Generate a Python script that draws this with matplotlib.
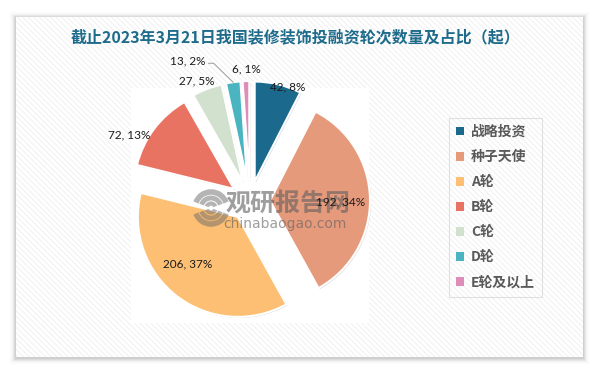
import math
import matplotlib.pyplot as plt
from matplotlib.patches import Rectangle, Patch, Arc
import matplotlib.patheffects as pe

# data
categories = ['战略投资', '种子天使', 'A轮', 'B轮', 'C轮', 'D轮', 'E轮及以上']
counts = [42, 192, 206, 72, 27, 13, 6]
shares = ['8%', '34%', '37%', '13%', '5%', '2%', '1%']
colors = ['#1B6A8D', '#E69A7C', '#FDBF73', '#E97362', '#D2E0CE', '#4AB4C0', '#DE8DB8']
title = '截止2023年3月21日我国装修装饰投融资轮次数量及占比（起）'

# label placement: distance (in radii) and angle nudge from slice middle
label_dist = [1.20, 0.91, 0.89, 1.38, 1.31, 1.53, 1.32]
label_shift = [-5, -1.6, -7.5, 8.6, 2.8, 16, -0.3]

plt.rcParams['font.family'] = ['Noto Sans CJK SC', 'DejaVu Sans']
plt.rcParams['hatch.color'] = '#EEEEEE'
plt.rcParams['hatch.linewidth'] = 0.6

W, H = 595, 373
fig = plt.figure(figsize=(W / 100, H / 100), dpi=100)
ax = fig.add_axes([0, 0, 1, 1])

# card shadow + hatched card
for g, a in zip([6, 4, 3, 2, 1], [0.02, 0.03, 0.04, 0.05, 0.06]):
    ax.add_patch(Rectangle((16 - g, 16 - g - 1), 567 + 2 * g, 340 + 2 * g,
                           fc='black', alpha=a, lw=0, zorder=0))
ax.add_patch(Rectangle((16, 16), 567, 340, fc='white', ec='#EEEEEE', lw=0,
                       hatch='\\\\\\\\\\\\', zorder=0.5))
# plot area
ax.add_patch(Rectangle((131, 50), 238, 235, fc='white', lw=0, zorder=1))

cx, cy, R = 250, 172, 100
wedges, _ = ax.pie(counts, colors=colors, startangle=90, counterclock=False,
                   radius=R, center=(cx, cy), explode=[0.2 * R] * len(counts),
                   wedgeprops=dict(edgecolor='white', linewidth=1.5), frame=True)
for w in wedges:
    w.set_zorder(2)
    w.set_path_effects([pe.SimplePatchShadow(offset=(0.8, -0.8), alpha=0.2), pe.Normal()])

for w, n, s, d, sh in zip(wedges, counts, shares, label_dist, label_shift):
    mid = math.radians((w.theta1 + w.theta2) / 2)
    a = mid + math.radians(sh)
    tx = cx + d * R * math.cos(a)
    ty = cy + d * R * math.sin(a)
    ax.text(tx, ty, f'{n}, {s}', ha='center', va='center', fontsize=8.5,
            family=['Lato', 'DejaVu Sans'], color='#1A1A1A', zorder=7)
    if n == 13:
        # leader line to the small slice
        ex, ey = w.center
        px = ex + R * math.cos(mid)
        py = ey + R * math.sin(mid)
        ax.plot([tx + 21, tx + 26, px], [ty - 2, ty - 2, py], color='#A6A6A6',
                lw=0.8, zorder=4)

ax.set_xlim(0, W)
ax.set_ylim(0, H)
ax.set_aspect('auto')
ax.axis('off')

ax.text(296, H - 37, title, ha='center', va='center', fontsize=11.5,
        fontweight='bold', color='#1E6B8B', zorder=5)

# watermark
ax.text(288, H - 204, '观研报告网', ha='center', va='center', fontsize=18,
        fontweight='black', color='#5E5E5E', alpha=0.6, zorder=6)
ax.text(285, H - 224, 'chinabaogao.com', ha='center', va='center', fontsize=10,
        family=['DejaVu Sans'], color='#5E5E5E', alpha=0.6, zorder=6)
for r, lw in [(16, 4), (10, 3.5), (4.5, 3)]:
    ax.add_patch(Arc((211, H - 208), 2 * r, 2 * r, theta1=200, theta2=340,
                     color='#6A6A6A', alpha=0.5, lw=lw, zorder=6))
    ax.add_patch(Arc((211, H - 208), 2 * r, 2 * r, theta1=20, theta2=160,
                     color='#6A6A6A', alpha=0.5, lw=lw, zorder=6))

handles = [Patch(fc=c, ec='none') for c in colors]
leg = ax.legend(handles, categories, loc='upper left',
                bbox_to_anchor=(449 / W, (H - 118) / H), bbox_transform=fig.transFigure,
                frameon=True, fancybox=False, edgecolor='#D9D9D9', facecolor='none',
                handlelength=0.6, handleheight=0.6, handletextpad=0.5,
                labelspacing=0.8, borderpad=0.5, borderaxespad=0,
                prop=dict(size=10, weight='bold'))
for t in leg.get_texts():
    t.set_color('#595959')
leg.get_frame().set_linewidth(0.8)

fig.savefig('out.png', dpi=100)
